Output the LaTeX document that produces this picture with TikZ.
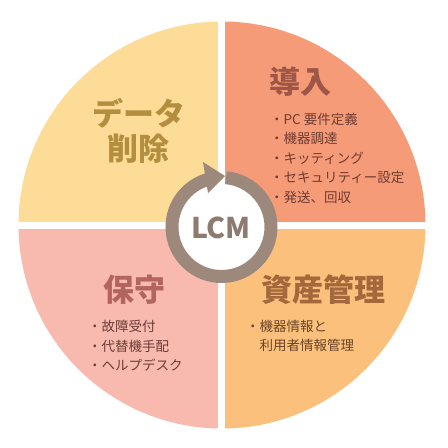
\documentclass[tikz,border=0pt]{standalone}
\usepackage{fontspec}
\usepackage{tikz}
\usepackage{xcolor}
\usetikzlibrary{arrows.meta}
\newfontfamily\jp{Noto Sans CJK JP}
\definecolor{yel}{HTML}{FCDC97}
\definecolor{sal}{HTML}{F59B78}
\definecolor{pnk}{HTML}{F8BAAE}
\definecolor{org}{HTML}{FBC07C}
\definecolor{ring}{HTML}{9D897C}
\definecolor{yeltxt}{HTML}{B38E3F}
\definecolor{saltxt}{HTML}{9E5646}
\definecolor{pnktxt}{HTML}{B4645E}
\definecolor{orgtxt}{HTML}{A5683C}

\begin{document}
\begin{tikzpicture}[x=1pt,y=1pt,
ttl/.style={font=\jp\bfseries\fontsize{31}{35}\selectfont,align=center,inner sep=0},
itm/.style={font=\jp\fontsize{13.5}{19.5}\selectfont,align=left,anchor=west,inner sep=0}]
\useasboundingbox(-222,-223)rectangle(226,225);
% four quarters
\fill[yel](0,0)--(-203.5,0)arc(180:90:203.5)--cycle;
\fill[sal](0,0)--(0,203.5)arc(90:0:203.5)--cycle;
\fill[pnk](0,0)--(0,-203.5)arc(270:180:203.5)--cycle;
\fill[org](0,0)--(203.5,0)arc(0:-90:203.5)--cycle;
\draw[white,line width=7](-210,0)--(210,0)(0,-210)--(0,210);
% cycle arrow
\fill[white](-0.5,-2)circle(44);
\draw[ring,line width=13](-0.5,-2)++(84.8:49.5)arc(84.8:-255:49.5);
\fill[ring](-19,63)--(3,49)--(-14,32)--cycle;
\node[font=\jp\bfseries\fontsize{28.5}{30}\selectfont,text=ring!90!black](lcm)at(-1,-3){LCM};
% labels
\node[ttl,text=yeltxt](del)at(-83,94.5){データ\\削除};
\node[ttl,text=saltxt](intro)at(79,143){導入};
\node[itm,text=saltxt!70!black](intro-list)at(48,67){・PC 要件定義\\・機器調達\\・キッティング\\・セキュリティー設定\\・発送、回収};
\node[ttl,text=pnktxt](maint)at(-87,-65){保守};
\node[itm,text=pnktxt!60!black](maint-list)at(-134,-121){・故障受付\\・代替機手配\\・ヘルプデスク};
\node[ttl,text=orgtxt](asset)at(101.5,-65){資産管理};
\node[itm,text=orgtxt!65!black](asset-list)at(24,-111){・機器情報と\\\phantom{・}利用者情報管理};
\end{tikzpicture}
\end{document}
